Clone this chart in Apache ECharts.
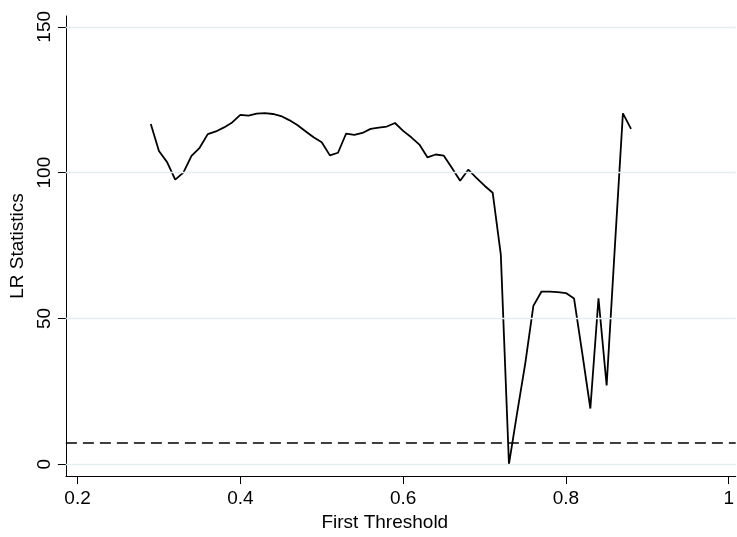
<!DOCTYPE html>
<html>
<head>
<meta charset="utf-8">
<script src="https://cdn.jsdelivr.net/npm/echarts@6/dist/echarts.min.js"></script>
<style>
html,body{margin:0;padding:0;background:#fff;}
#chart{width:737px;height:537px;}
</style>
</head>
<body>
<div id="chart"></div>
<script>
const thresholds = [0.29,0.30,0.31,0.32,0.33,0.34,0.35,0.36,0.37,0.38,0.39,0.40,0.41,0.42,0.43,0.44,0.45,0.46,0.47,0.48,0.49,0.50,0.51,0.52,0.53,0.54,0.55,0.56,0.57,0.58,0.59,0.60,0.61,0.62,0.63,0.64,0.65,0.66,0.67,0.68,0.69,0.70,0.71,0.72,0.73,0.74,0.75,0.76,0.77,0.78,0.79,0.80,0.81,0.82,0.83,0.84,0.85,0.86,0.87,0.88];
const lrStats = [116.7,107.4,103.6,97.6,100.0,105.7,108.5,113.2,114.1,115.5,117.2,119.8,119.5,120.2,120.4,120.1,119.4,118.0,116.3,114.2,112.1,110.4,105.9,106.8,113.4,112.9,113.6,115.0,115.4,115.8,117.0,114.3,112.1,109.6,105.2,106.2,105.8,101.6,97.2,101.0,98.2,95.5,93.1,71.9,0.0,17.5,34.5,54.3,59.2,59.2,59.0,58.7,56.8,38.2,19.1,56.9,27.0,74.0,120.3,115.0];
const criticalValue = 7.3;
const xTicks = [0.2,0.4,0.6,0.8,1];
const yTicks = [0,50,100,150];

const chart = echarts.init(document.getElementById('chart'), null, {renderer:'canvas'});
const font = 'Liberation Sans, Arial, sans-serif';
chart.setOption({
  animation:false,
  backgroundColor:'#ffffff',
  grid:{left:65, right:0, top:16, bottom:56},
  xAxis:{
    type:'value', min:0.1857, max:1.0086,
    name:'First Threshold', nameLocation:'middle', nameGap:32,
    nameTextStyle:{fontFamily:font, fontSize:19, color:'#000', padding:[0,32,0,0]},
    axisLine:{show:true, onZero:false, lineStyle:{color:'#000', width:1}},
    axisTick:{show:true, length:8, lineStyle:{color:'#000'}, customValues:xTicks},
    axisLabel:{fontFamily:font, fontSize:19, color:'#000', margin:13, customValues:xTicks,
      formatter:v=>String(v)},
    splitLine:{show:false}
  },
  yAxis:{
    type:'value', min:-4.08, max:153.7,
    name:'LR Statistics', nameLocation:'middle', nameGap:29, nameRotate:90,
    nameTextStyle:{fontFamily:font, fontSize:19, color:'#000'},
    axisLine:{show:true, onZero:false, lineStyle:{color:'#000', width:1}},
    axisTick:{show:true, length:8, lineStyle:{color:'#000'}, customValues:yTicks},
    axisLabel:{fontFamily:font, fontSize:19, color:'#000', margin:12, rotate:90, customValues:yTicks},
    splitLine:{show:false}
  },
  series:[
    {
      type:'line', silent:true, symbol:'none',
      data:thresholds.map((x,i)=>[x,lrStats[i]]),
      lineStyle:{color:'#000', width:1.8},
      markLine:{
        silent:true, symbol:'none', animation:false,
        label:{show:false},
        data:yTicks.map(v=>({yAxis:v, lineStyle:{color:'#e4eeef', width:1.3, type:'solid'}}))
          .concat([{yAxis:criticalValue, lineStyle:{color:'#000', width:1.5, type:[11,6]}}])
      },
      z:3
    }
  ]
});
</script>
</body>
</html>
